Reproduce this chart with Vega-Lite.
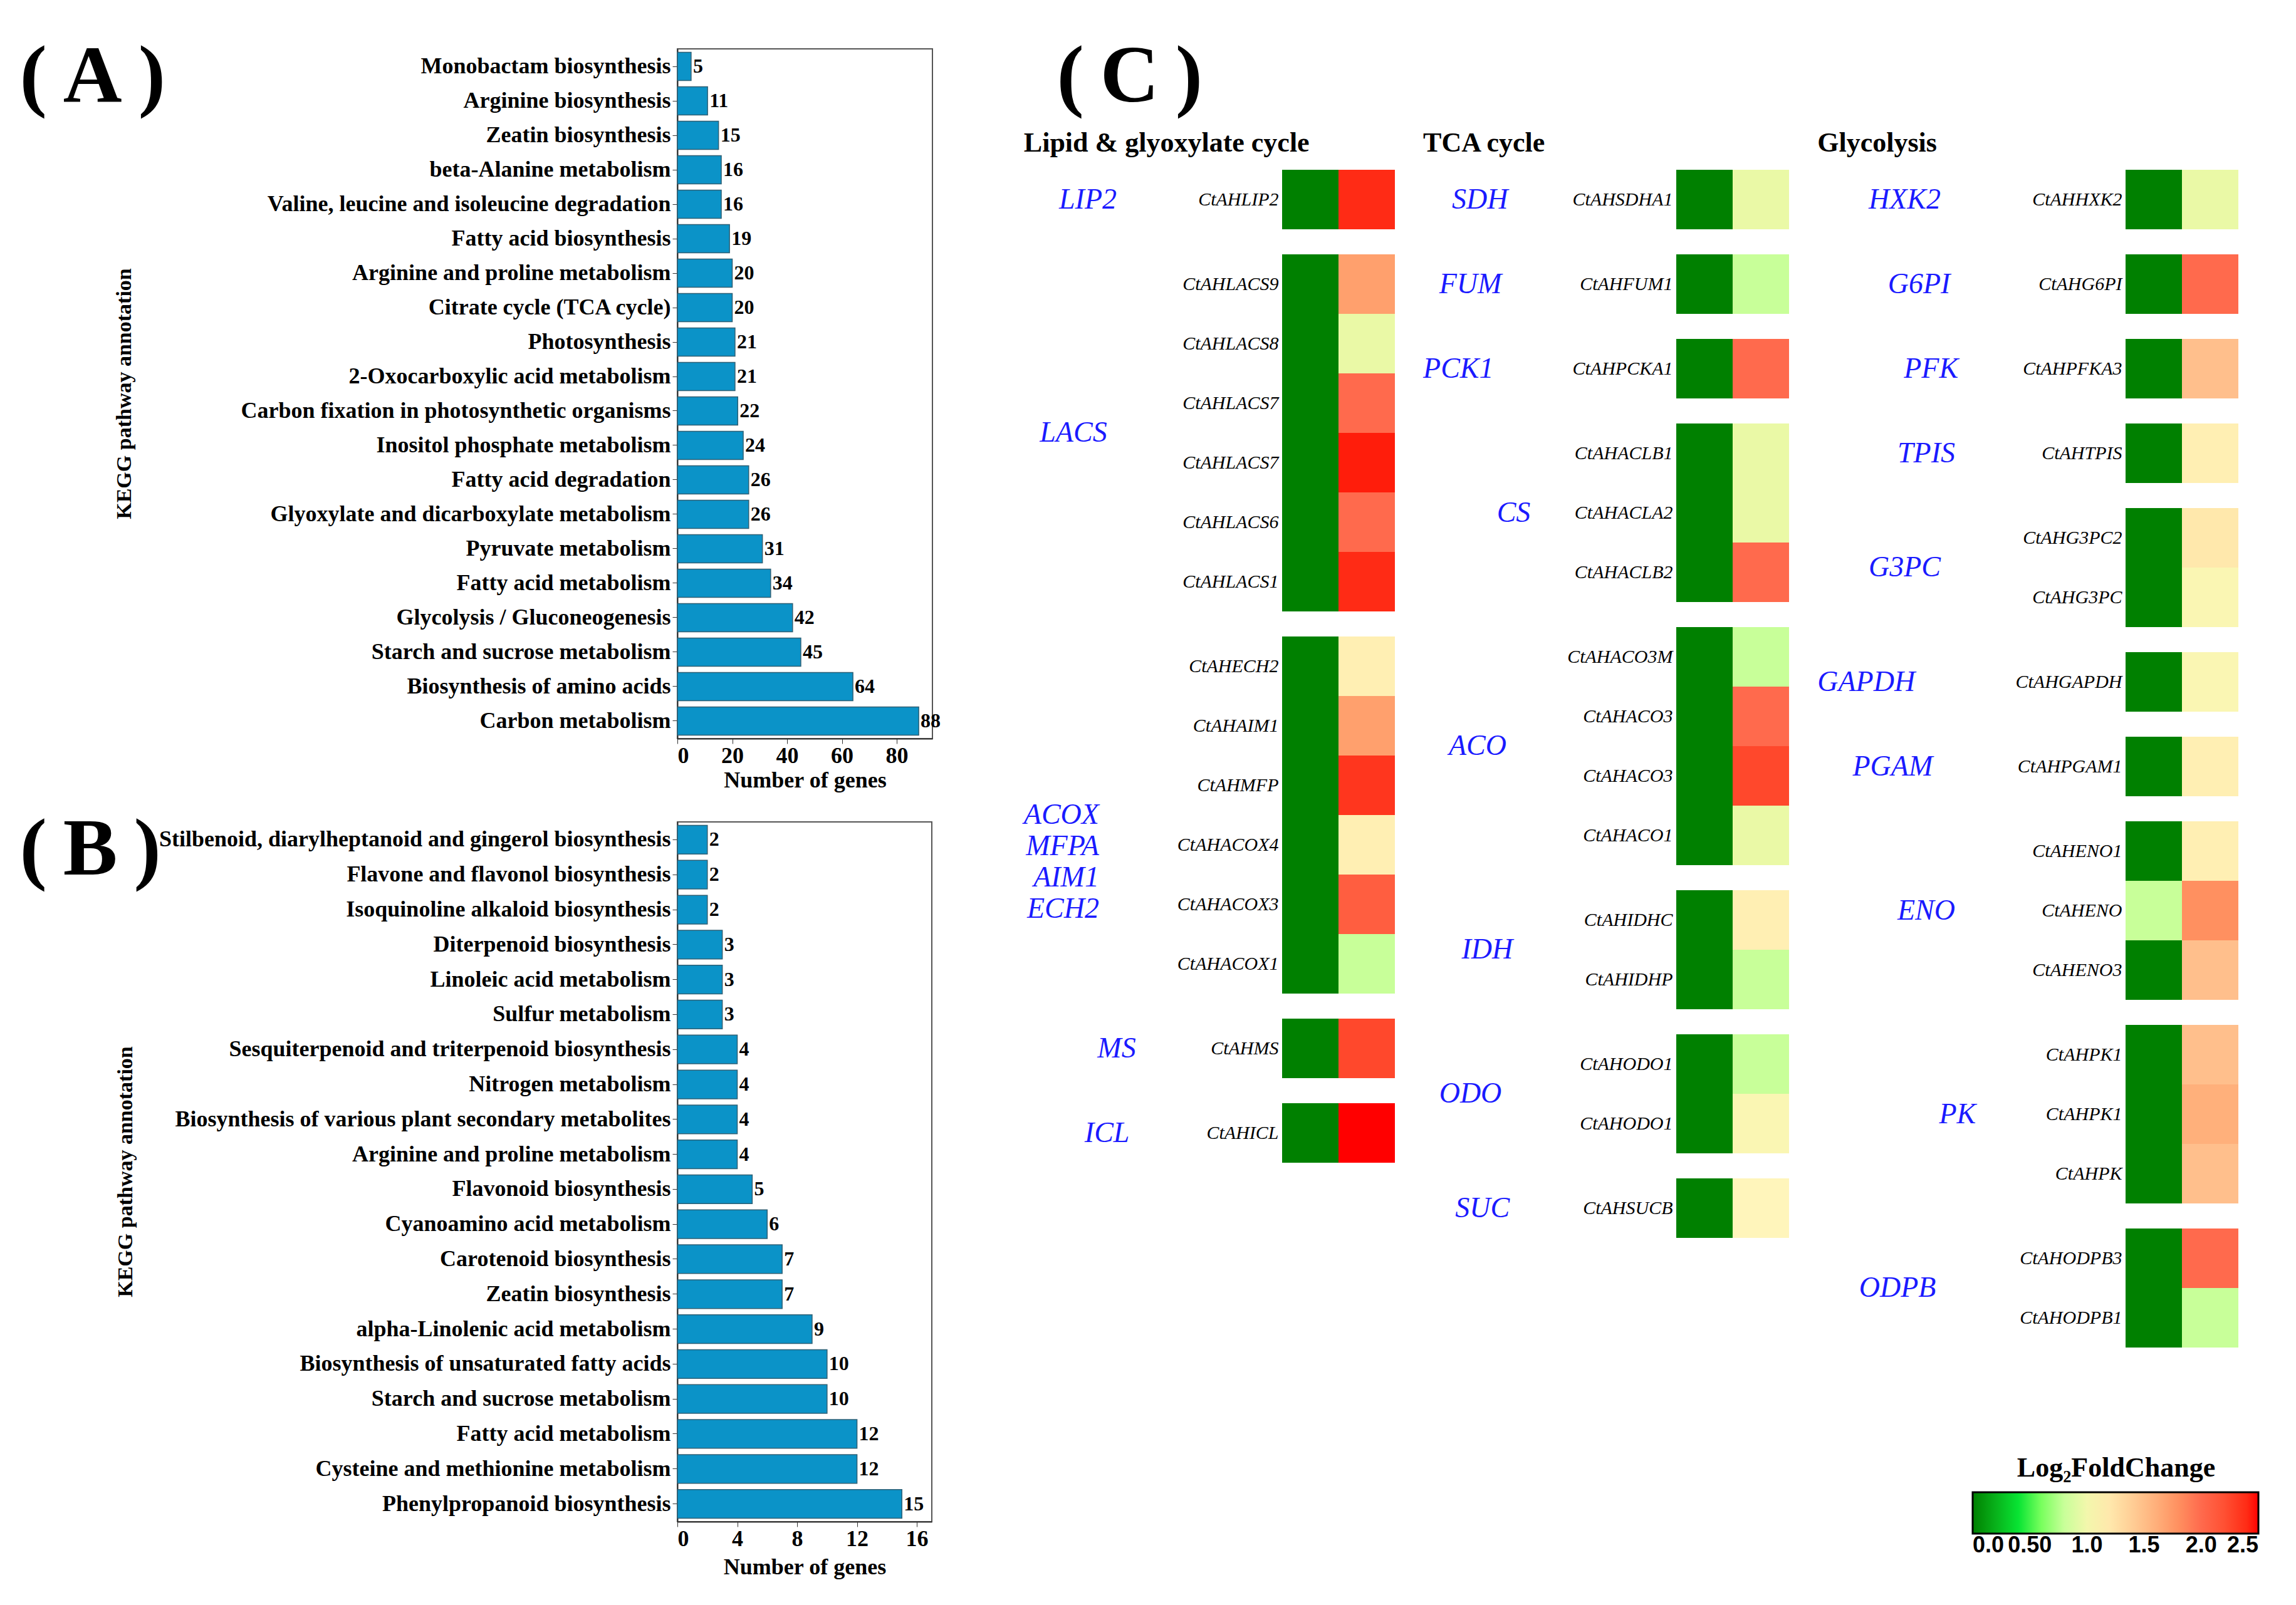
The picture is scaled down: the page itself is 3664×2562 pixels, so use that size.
{
  "$schema": "https://vega.github.io/schema/vega-lite/v6.json",
  "background": "white",
  "padding": {"left": 30, "top": 56, "right": 10, "bottom": 10},
  "config": {
    "font": "Liberation Serif",
    "view": {"stroke": null},
    "axis": {"labelColor": "#000", "titleColor": "#000", "tickColor": "#333", "domainColor": "#333"},
    "title": {"color": "#000"},
    "legend": {
      "orient": "none", "legendX": 2067, "legendY": 2244, "direction": "horizontal",
      "gradientLength": 456, "gradientThickness": 66,
      "gradientStrokeColor": "#000", "gradientStrokeWidth": 3,
      "titleFont": "Liberation Serif", "titleFontSize": 44, "titleFontWeight": "bold", "titleAnchor": "middle", "titlePadding": 16, "titleColor": "#000", "titleLimit": 800,
      "labelFont": "Liberation Sans", "labelFontSize": 36, "labelFontWeight": "bold", "labelColor": "#000", "labelOverlap": false, "labelOffset": 18
    }
  },
  "datasets": {
    "a": [
      {"pathway": "Monobactam biosynthesis", "genes": 5},
      {"pathway": "Arginine biosynthesis", "genes": 11},
      {"pathway": "Zeatin biosynthesis", "genes": 15},
      {"pathway": "beta-Alanine metabolism", "genes": 16},
      {"pathway": "Valine, leucine and isoleucine degradation", "genes": 16},
      {"pathway": "Fatty acid biosynthesis", "genes": 19},
      {"pathway": "Arginine and proline metabolism", "genes": 20},
      {"pathway": "Citrate cycle (TCA cycle)", "genes": 20},
      {"pathway": "Photosynthesis", "genes": 21},
      {"pathway": "2-Oxocarboxylic acid metabolism", "genes": 21},
      {"pathway": "Carbon fixation in photosynthetic organisms", "genes": 22},
      {"pathway": "Inositol phosphate metabolism", "genes": 24},
      {"pathway": "Fatty acid degradation", "genes": 26},
      {"pathway": "Glyoxylate and dicarboxylate metabolism", "genes": 26},
      {"pathway": "Pyruvate metabolism", "genes": 31},
      {"pathway": "Fatty acid metabolism", "genes": 34},
      {"pathway": "Glycolysis / Gluconeogenesis", "genes": 42},
      {"pathway": "Starch and sucrose metabolism", "genes": 45},
      {"pathway": "Biosynthesis of amino acids", "genes": 64},
      {"pathway": "Carbon metabolism", "genes": 88}
    ],
    "b": [
      {"pathway": "Stilbenoid, diarylheptanoid and gingerol biosynthesis", "genes": 2},
      {"pathway": "Flavone and flavonol biosynthesis", "genes": 2},
      {"pathway": "Isoquinoline alkaloid biosynthesis", "genes": 2},
      {"pathway": "Diterpenoid biosynthesis", "genes": 3},
      {"pathway": "Linoleic acid metabolism", "genes": 3},
      {"pathway": "Sulfur metabolism", "genes": 3},
      {"pathway": "Sesquiterpenoid and triterpenoid biosynthesis", "genes": 4},
      {"pathway": "Nitrogen metabolism", "genes": 4},
      {"pathway": "Biosynthesis of various plant secondary metabolites", "genes": 4},
      {"pathway": "Arginine and proline metabolism", "genes": 4},
      {"pathway": "Flavonoid biosynthesis", "genes": 5},
      {"pathway": "Cyanoamino acid metabolism", "genes": 6},
      {"pathway": "Carotenoid biosynthesis", "genes": 7},
      {"pathway": "Zeatin biosynthesis", "genes": 7},
      {"pathway": "alpha-Linolenic acid metabolism", "genes": 9},
      {"pathway": "Biosynthesis of unsaturated fatty acids", "genes": 10},
      {"pathway": "Starch and sucrose metabolism", "genes": 10},
      {"pathway": "Fatty acid metabolism", "genes": 12},
      {"pathway": "Cysteine and methionine metabolism", "genes": 12},
      {"pathway": "Phenylpropanoid  biosynthesis", "genes": 15}
    ],
    "c": [
      {"grp": 1, "ord": 1, "enzyme": "LIP2", "id": "CtAHLIP2", "Control": 0, "Treatment": 2.4},
      {"grp": 1, "ord": 2, "enzyme": "LACS", "id": "CtAHLACS9", "Control": 0, "Treatment": 1.7},
      {"grp": 1, "ord": 2, "enzyme": "LACS", "id": "CtAHLACS8", "Control": 0, "Treatment": 0.95},
      {"grp": 1, "ord": 2, "enzyme": "LACS", "id": "CtAHLACS7", "Control": 0, "Treatment": 2.0},
      {"grp": 1, "ord": 2, "enzyme": "LACS", "id": "CtAHLACS7#2", "Control": 0, "Treatment": 2.45},
      {"grp": 1, "ord": 2, "enzyme": "LACS", "id": "CtAHLACS6", "Control": 0, "Treatment": 2.0},
      {"grp": 1, "ord": 2, "enzyme": "LACS", "id": "CtAHLACS1", "Control": 0, "Treatment": 2.4},
      {"grp": 1, "ord": 3, "enzyme": "ACOX MFPA AIM1 ECH2", "id": "CtAHECH2", "Control": 0, "Treatment": 1.15},
      {"grp": 1, "ord": 3, "enzyme": "ACOX MFPA AIM1 ECH2", "id": "CtAHAIM1", "Control": 0, "Treatment": 1.7},
      {"grp": 1, "ord": 3, "enzyme": "ACOX MFPA AIM1 ECH2", "id": "CtAHMFP", "Control": 0, "Treatment": 2.35},
      {"grp": 1, "ord": 3, "enzyme": "ACOX MFPA AIM1 ECH2", "id": "CtAHACOX4", "Control": 0, "Treatment": 1.15},
      {"grp": 1, "ord": 3, "enzyme": "ACOX MFPA AIM1 ECH2", "id": "CtAHACOX3", "Control": 0, "Treatment": 2.1},
      {"grp": 1, "ord": 3, "enzyme": "ACOX MFPA AIM1 ECH2", "id": "CtAHACOX1", "Control": 0, "Treatment": 0.8},
      {"grp": 1, "ord": 4, "enzyme": "MS", "id": "CtAHMS", "Control": 0, "Treatment": 2.25},
      {"grp": 1, "ord": 5, "enzyme": "ICL", "id": "CtAHICL", "Control": 0, "Treatment": 2.5},
      {"grp": 2, "ord": 1, "enzyme": "SDH", "id": "CtAHSDHA1", "Control": 0, "Treatment": 0.95},
      {"grp": 2, "ord": 2, "enzyme": "FUM", "id": "CtAHFUM1", "Control": 0, "Treatment": 0.8},
      {"grp": 2, "ord": 3, "enzyme": "PCK1", "id": "CtAHPCKA1", "Control": 0, "Treatment": 2.0},
      {"grp": 2, "ord": 4, "enzyme": "CS", "id": "CtAHACLB1", "Control": 0, "Treatment": 0.95},
      {"grp": 2, "ord": 4, "enzyme": "CS", "id": "CtAHACLA2", "Control": 0, "Treatment": 0.95},
      {"grp": 2, "ord": 4, "enzyme": "CS", "id": "CtAHACLB2", "Control": 0, "Treatment": 2.0},
      {"grp": 2, "ord": 5, "enzyme": "ACO", "id": "CtAHACO3M", "Control": 0, "Treatment": 0.8},
      {"grp": 2, "ord": 5, "enzyme": "ACO", "id": "CtAHACO3", "Control": 0, "Treatment": 2.0},
      {"grp": 2, "ord": 5, "enzyme": "ACO", "id": "CtAHACO3#2", "Control": 0, "Treatment": 2.25},
      {"grp": 2, "ord": 5, "enzyme": "ACO", "id": "CtAHACO1", "Control": 0, "Treatment": 0.95},
      {"grp": 2, "ord": 6, "enzyme": "IDH", "id": "CtAHIDHC", "Control": 0, "Treatment": 1.15},
      {"grp": 2, "ord": 6, "enzyme": "IDH", "id": "CtAHIDHP", "Control": 0, "Treatment": 0.8},
      {"grp": 2, "ord": 7, "enzyme": "ODO", "id": "CtAHODO1", "Control": 0, "Treatment": 0.8},
      {"grp": 2, "ord": 7, "enzyme": "ODO", "id": "CtAHODO1#2", "Control": 0, "Treatment": 1.05},
      {"grp": 2, "ord": 8, "enzyme": "SUC", "id": "CtAHSUCB", "Control": 0, "Treatment": 1.1},
      {"grp": 3, "ord": 1, "enzyme": "HXK2", "id": "CtAHHXK2", "Control": 0, "Treatment": 0.95},
      {"grp": 3, "ord": 2, "enzyme": "G6PI", "id": "CtAHG6PI", "Control": 0, "Treatment": 2.0},
      {"grp": 3, "ord": 3, "enzyme": "PFK", "id": "CtAHPFKA3", "Control": 0, "Treatment": 1.5},
      {"grp": 3, "ord": 4, "enzyme": "TPIS", "id": "CtAHTPIS", "Control": 0, "Treatment": 1.15},
      {"grp": 3, "ord": 5, "enzyme": "G3PC", "id": "CtAHG3PC2", "Control": 0, "Treatment": 1.2},
      {"grp": 3, "ord": 5, "enzyme": "G3PC", "id": "CtAHG3PC", "Control": 0, "Treatment": 1.05},
      {"grp": 3, "ord": 6, "enzyme": "GAPDH", "id": "CtAHGAPDH", "Control": 0, "Treatment": 1.05},
      {"grp": 3, "ord": 7, "enzyme": "PGAM", "id": "CtAHPGAM1", "Control": 0, "Treatment": 1.15},
      {"grp": 3, "ord": 8, "enzyme": "ENO", "id": "CtAHENO1", "Control": 0, "Treatment": 1.15},
      {"grp": 3, "ord": 8, "enzyme": "ENO", "id": "CtAHENO", "Control": 0.8, "Treatment": 1.8},
      {"grp": 3, "ord": 8, "enzyme": "ENO", "id": "CtAHENO3", "Control": 0, "Treatment": 1.5},
      {"grp": 3, "ord": 9, "enzyme": "PK", "id": "CtAHPK1", "Control": 0, "Treatment": 1.5},
      {"grp": 3, "ord": 9, "enzyme": "PK", "id": "CtAHPK1#2", "Control": 0, "Treatment": 1.6},
      {"grp": 3, "ord": 9, "enzyme": "PK", "id": "CtAHPK", "Control": 0, "Treatment": 1.5},
      {"grp": 3, "ord": 10, "enzyme": "ODPB", "id": "CtAHODPB3", "Control": 0, "Treatment": 2.0},
      {"grp": 3, "ord": 10, "enzyme": "ODPB", "id": "CtAHODPB1", "Control": 0, "Treatment": 0.8}
    ]
  },
  "hconcat": [
    {
      "vconcat": [
        {
          "width": 407, "height": 1101,
          "view": {"stroke": "#555", "strokeWidth": 2},
          "data": {"name": "a"},
          "encoding": {
            "y": {"field": "pathway", "type": "nominal", "sort": null,
              "scale": {"paddingInner": 0.18, "paddingOuter": 0.1},
              "axis": {"title": "KEGG pathway annotation", "titleFont": "Liberation Serif", "titleFontSize": 34, "titleFontWeight": "bold",
                "titleX": -883, "titleY": 550, "titleAngle": -90, "titleAlign": "center", "titleBaseline": "middle",
                "labelFont": "Liberation Serif", "labelFontSize": 36, "labelFontWeight": "bold", "labelPadding": 3, "labelLimit": 1000,
                "tickSize": 8, "domainWidth": 2}}
          },
          "layer": [
            {"mark": {"type": "bar", "color": "#0b93c8", "stroke": "#2f6075", "strokeWidth": 1.5},
             "encoding": {"x": {"field": "genes", "type": "quantitative", "scale": {"domain": [0, 93], "nice": false},
              "axis": {"title": "Number of genes", "values": [0, 20, 40, 60, 80], "grid": false,
                "titleFont": "Liberation Serif", "titleFontSize": 36, "titleFontWeight": "bold", "titlePadding": 4,
                "labelFont": "Liberation Serif", "labelFontSize": 36, "labelFontWeight": "bold", "labelPadding": 2,
                "tickSize": 8, "domainWidth": 2}}}},
            {"mark": {"type": "text", "align": "left", "baseline": "middle", "dx": 3, "font": "Liberation Serif", "fontWeight": "bold", "fontSize": 32, "color": "#000"},
             "encoding": {"text": {"field": "genes", "type": "quantitative"},
              "x": {"field": "genes", "type": "quantitative",
                "axis": {"orient": "top", "title": "(\u2009A\u2009)", "labels": false, "ticks": false, "domain": false, "grid": false,
                  "titleX": -1050, "titleY": 83, "titleAngle": 0, "titleAlign": "left", "titleBaseline": "alphabetic",
                  "titleFont": "Liberation Serif", "titleFontSize": 130, "titleFontWeight": "bold"}}}}
          ],
          "resolve": {"axis": {"x": "independent"}}
        },
        {
          "width": 406, "height": 1117,
          "view": {"stroke": "#555", "strokeWidth": 2},
          "data": {"name": "b"},
          "encoding": {
            "y": {"field": "pathway", "type": "nominal", "sort": null,
              "scale": {"paddingInner": 0.18, "paddingOuter": 0.1},
              "axis": {"title": "KEGG pathway annotation", "titleFont": "Liberation Serif", "titleFontSize": 34, "titleFontWeight": "bold",
                "titleX": -881, "titleY": 558, "titleAngle": -90, "titleAlign": "center", "titleBaseline": "middle",
                "labelFont": "Liberation Serif", "labelFontSize": 36, "labelFontWeight": "bold", "labelPadding": 3, "labelLimit": 1000,
                "tickSize": 8, "domainWidth": 2}}
          },
          "layer": [
            {"mark": {"type": "bar", "color": "#0b93c8", "stroke": "#2f6075", "strokeWidth": 1.5},
             "encoding": {"x": {"field": "genes", "type": "quantitative", "scale": {"domain": [0, 17], "nice": false},
              "axis": {"title": "Number of genes", "values": [0, 4, 8, 12, 16], "grid": false,
                "titleFont": "Liberation Serif", "titleFontSize": 36, "titleFontWeight": "bold", "titlePadding": 10,
                "labelFont": "Liberation Serif", "labelFontSize": 36, "labelFontWeight": "bold", "labelPadding": 2,
                "tickSize": 8, "domainWidth": 2}}}},
            {"mark": {"type": "text", "align": "left", "baseline": "middle", "dx": 3, "font": "Liberation Serif", "fontWeight": "bold", "fontSize": 32, "color": "#000"},
             "encoding": {"text": {"field": "genes", "type": "quantitative"},
              "x": {"field": "genes", "type": "quantitative",
                "axis": {"orient": "top", "title": "(\u2009B\u2009)", "labels": false, "ticks": false, "domain": false, "grid": false,
                  "titleX": -1050, "titleY": 83, "titleAngle": 0, "titleAlign": "left", "titleBaseline": "alphabetic",
                  "titleFont": "Liberation Serif", "titleFontSize": 130, "titleFontWeight": "bold"}}}}
          ],
          "resolve": {"axis": {"x": "independent"}}
        }
      ],
      "spacing": 26
    },
    {
      "spacing": 20,
      "vconcat": [
        {
          "width": 100, "height": 80,
          "data": {"name": "c"},
          "transform": [{"filter": "false"}],
          "mark": {"type": "rect"},
          "encoding": {
            "x": {"field": "grp", "type": "quantitative", "scale": {"domain": [0, 1]},
              "axis": {"orient": "top", "title": "(\u2009C\u2009)", "labels": false, "ticks": false, "domain": false, "grid": false,
                "titleX": -360, "titleY": 83, "titleAngle": 0, "titleAlign": "left", "titleBaseline": "alphabetic",
                "titleFont": "Liberation Serif", "titleFontSize": 130, "titleFontWeight": "bold"}}
          }
        },
        {
          "spacing": 45,
          "hconcat": [
            {
              "title": {"text": "Lipid & glyoxylate cycle", "fontSize": 44, "font": "Liberation Serif", "fontWeight": "bold", "offset": 20},
              "data": {"name": "c"},
              "transform": [{"filter": "datum.grp == 1"}, {"fold": ["Control", "Treatment"], "as": ["sample", "value"]}],
              "facet": {"row": {"field": "enzyme", "type": "nominal", "title": null, "sort": {"field": "ord", "op": "min"},
                "header": {"labelOrient": "left", "labelAngle": 0, "labelAlign": "right", "labelBaseline": "middle", "labelAnchor": "middle",
                  "labelColor": "#1a1aff", "labelFont": "Liberation Serif", "labelFontStyle": "italic", "labelFontSize": 46, "labelLineHeight": 50,
                  "labelPadding": 4, "labelExpr": "split(datum.value, ' ')"}}},
              "spacing": {"row": 40},
              "resolve": {"scale": {"y": "independent"}},
              "spec": {
                "width": 180, "height": {"step": 95},
                "mark": {"type": "rect"},
                "encoding": {
                  "x": {"field": "sample", "type": "nominal", "sort": ["Control", "Treatment"], "axis": null},
                  "y": {"field": "id", "type": "nominal", "sort": null,
                    "axis": {"title": null, "labelExpr": "split(datum.value, '#')[0]", "ticks": false, "domain": false, "labelLimit": 400,
                      "labelFont": "Liberation Serif", "labelFontStyle": "italic", "labelFontSize": 30, "labelPadding": 6}},
                  "color": {"field": "value", "type": "quantitative",
                    "scale": {"domain": [0, 0.5, 0.8, 1.1, 1.5, 2.0, 2.5], "range": ["#008000", "#00ff40", "#c8ff99", "#fff5bb", "#ffbf8c", "#ff6a4d", "#ff0000"]},
                    "legend": {"title": "Log₂FoldChange", "values": [0, 0.5, 1, 1.5, 2, 2.5], "labelExpr": "datum.value == 0.5 ? '0.50' : format(datum.value, '.1f')"}}
                }
              }
            },
            {
              "title": {"text": "TCA cycle", "fontSize": 44, "font": "Liberation Serif", "fontWeight": "bold", "offset": 20},
              "data": {"name": "c"},
              "transform": [{"filter": "datum.grp == 2"}, {"fold": ["Control", "Treatment"], "as": ["sample", "value"]}],
              "facet": {"row": {"field": "enzyme", "type": "nominal", "title": null, "sort": {"field": "ord", "op": "min"},
                "header": {"labelOrient": "left", "labelAngle": 0, "labelAlign": "right", "labelBaseline": "middle", "labelAnchor": "middle",
                  "labelColor": "#1a1aff", "labelFont": "Liberation Serif", "labelFontStyle": "italic", "labelFontSize": 46, "labelLineHeight": 50,
                  "labelPadding": 4, "labelExpr": "split(datum.value, ' ')"}}},
              "spacing": {"row": 40},
              "resolve": {"scale": {"y": "independent"}},
              "spec": {
                "width": 180, "height": {"step": 95},
                "mark": {"type": "rect"},
                "encoding": {
                  "x": {"field": "sample", "type": "nominal", "sort": ["Control", "Treatment"], "axis": null},
                  "y": {"field": "id", "type": "nominal", "sort": null,
                    "axis": {"title": null, "labelExpr": "split(datum.value, '#')[0]", "ticks": false, "domain": false, "labelLimit": 400,
                      "labelFont": "Liberation Serif", "labelFontStyle": "italic", "labelFontSize": 30, "labelPadding": 6}},
                  "color": {"field": "value", "type": "quantitative",
                    "scale": {"domain": [0, 0.5, 0.8, 1.1, 1.5, 2.0, 2.5], "range": ["#008000", "#00ff40", "#c8ff99", "#fff5bb", "#ffbf8c", "#ff6a4d", "#ff0000"]},
                    "legend": {"title": "Log₂FoldChange", "values": [0, 0.5, 1, 1.5, 2, 2.5], "labelExpr": "datum.value == 0.5 ? '0.50' : format(datum.value, '.1f')"}}
                }
              }
            },
            {
              "title": {"text": "Glycolysis", "fontSize": 44, "font": "Liberation Serif", "fontWeight": "bold", "offset": 20},
              "data": {"name": "c"},
              "transform": [{"filter": "datum.grp == 3"}, {"fold": ["Control", "Treatment"], "as": ["sample", "value"]}],
              "facet": {"row": {"field": "enzyme", "type": "nominal", "title": null, "sort": {"field": "ord", "op": "min"},
                "header": {"labelOrient": "left", "labelAngle": 0, "labelAlign": "right", "labelBaseline": "middle", "labelAnchor": "middle",
                  "labelColor": "#1a1aff", "labelFont": "Liberation Serif", "labelFontStyle": "italic", "labelFontSize": 46, "labelLineHeight": 50,
                  "labelPadding": 4, "labelExpr": "split(datum.value, ' ')"}}},
              "spacing": {"row": 40},
              "resolve": {"scale": {"y": "independent"}},
              "spec": {
                "width": 180, "height": {"step": 95},
                "mark": {"type": "rect"},
                "encoding": {
                  "x": {"field": "sample", "type": "nominal", "sort": ["Control", "Treatment"], "axis": null},
                  "y": {"field": "id", "type": "nominal", "sort": null,
                    "axis": {"title": null, "labelExpr": "split(datum.value, '#')[0]", "ticks": false, "domain": false, "labelLimit": 400,
                      "labelFont": "Liberation Serif", "labelFontStyle": "italic", "labelFontSize": 30, "labelPadding": 6}},
                  "color": {"field": "value", "type": "quantitative",
                    "scale": {"domain": [0, 0.5, 0.8, 1.1, 1.5, 2.0, 2.5], "range": ["#008000", "#00ff40", "#c8ff99", "#fff5bb", "#ffbf8c", "#ff6a4d", "#ff0000"]},
                    "legend": {"title": "Log₂FoldChange", "values": [0, 0.5, 1, 1.5, 2, 2.5], "labelExpr": "datum.value == 0.5 ? '0.50' : format(datum.value, '.1f')"}}
                }
              }
            }
          ]
        }
      ]
    }
  ],
  "spacing": 130
}
